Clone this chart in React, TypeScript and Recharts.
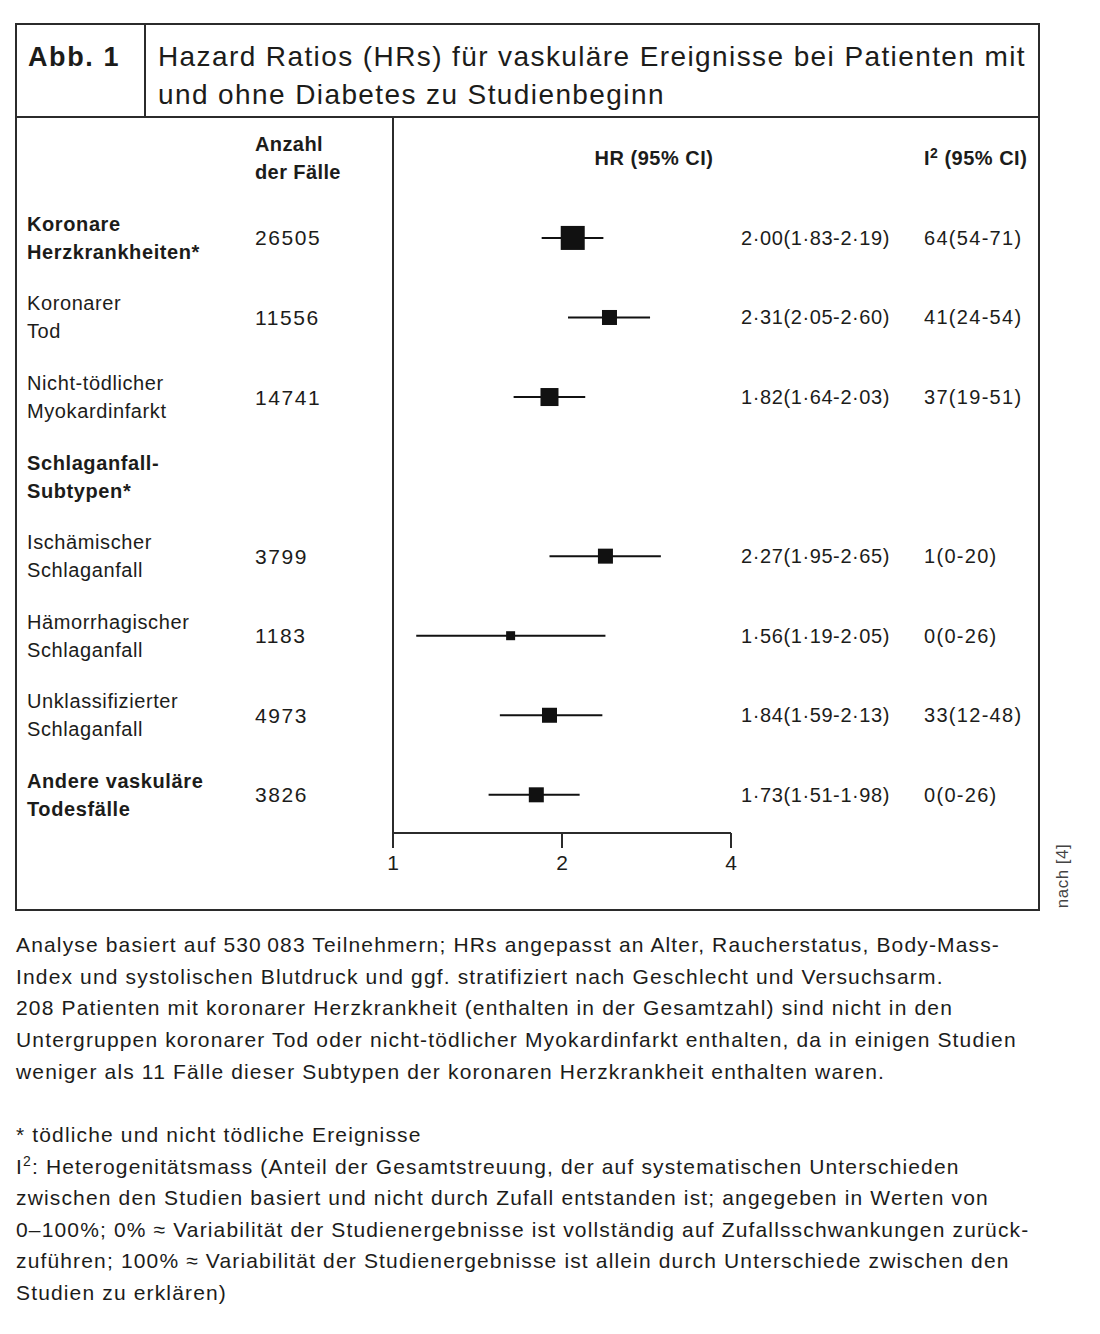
import React from "react";
import {
  ComposedChart,
  Scatter,
  XAxis,
  YAxis,
  ReferenceLine,
} from "recharts";

// ── Data ──────────────────────────────────────────────────────────────────────

const rowLabels: string[][] = [
  ["Koronare", "Herzkrankheiten*"],
  ["Koronarer", "Tod"],
  ["Nicht-tödlicher", "Myokardinfarkt"],
  ["Schlaganfall-", "Subtypen*"],
  ["Ischämischer", "Schlaganfall"],
  ["Hämorrhagischer", "Schlaganfall"],
  ["Unklassifizierter", "Schlaganfall"],
  ["Andere vaskuläre", "Todesfälle"],
];
const rowBold = [true, false, false, true, false, false, false, true];
const caseCounts = ["26505", "11556", "14741", "", "3799", "1183", "4973", "3826"];

// point estimate and CI as drawn
const hrPoint: (number | null)[] = [2.09, 2.43, 1.9, null, 2.39, 1.62, 1.9, 1.8];
const hrLow: (number | null)[] = [1.84, 2.05, 1.64, null, 1.9, 1.1, 1.55, 1.48];
const hrHigh: (number | null)[] = [2.37, 2.87, 2.2, null, 3.0, 2.39, 2.36, 2.15];
const squareWeights: (number | null)[] = [24, 15, 18, null, 15, 9, 15, 15];

const hrText = [
  "2·00(1·83-2·19)",
  "2·31(2·05-2·60)",
  "1·82(1·64-2·03)",
  "",
  "2·27(1·95-2·65)",
  "1·56(1·19-2·05)",
  "1·84(1·59-2·13)",
  "1·73(1·51-1·98)",
];
const i2Text = ["64(54-71)", "41(24-54)", "37(19-51)", "", "1(0-20)", "0(0-26)", "33(12-48)", "0(0-26)"];

const xTicks = [1, 2, 4];
const rowTicks = [-1, 0, 1, 2, 3, 4, 5, 6, 7];

const notesA = [
  "Analyse basiert auf 530\u2009083 Teilnehmern; HRs angepasst an Alter, Raucherstatus, Body-Mass-",
  "Index und systolischen Blutdruck und ggf. stratifiziert nach Geschlecht und Versuchsarm.",
  "208 Patienten mit koronarer Herzkrankheit (enthalten in der Gesamtzahl) sind nicht in den",
  "Untergruppen koronarer Tod oder nicht-tödlicher Myokardinfarkt enthalten, da in einigen Studien",
  "weniger als 11 Fälle dieser Subtypen der koronaren Herzkrankheit enthalten waren.",
];
const notesB = [
  "* tödliche und nicht tödliche Ereignisse",
  "²: Heterogenitätsmass (Anteil der Gesamtstreuung, der auf systematischen Unterschieden",
  "zwischen den Studien basiert und nicht durch Zufall entstanden ist; angegeben in Werten von",
  "0–100%; 0% ≈ Variabilität der Studienergebnisse ist vollständig auf Zufallsschwankungen zurück-",
  "zuführen; 100% ≈ Variabilität der Studienergebnisse ist allein durch Unterschiede zwischen den",
  "Studien zu erklären)",
];

const points = hrPoint
  .map((v, i) => ({ x: v, y: i, w: squareWeights[i] }))
  .filter((d) => d.x !== null);

// ── Styles ────────────────────────────────────────────────────────────────────

const FONT = "'Liberation Sans', Arial, sans-serif";
const INK = "#1c1c1a";
const LINE = "#2b2b2b";

// ── Ticks ─────────────────────────────────────────────────────────────────────

function LeftTick({ y, payload }: any) {
  const i = payload.value as number;
  if (i === -1) {
    return (
      <g fontFamily={FONT} fontSize={20} fontWeight={700} fill={INK} letterSpacing={0.4}>
        <text x={239} y={y - 14} dominantBaseline="central">Anzahl</text>
        <text x={239} y={y + 14} dominantBaseline="central">der Fälle</text>
      </g>
    );
  }
  const lines = rowLabels[i];
  const w = rowBold[i] ? 700 : 400;
  return (
    <g fontFamily={FONT} fontSize={20} fill={INK}>
      <text x={11} y={y - 14} dominantBaseline="central" fontWeight={w} letterSpacing={0.6}>{lines[0]}</text>
      <text x={11} y={y + 14} dominantBaseline="central" fontWeight={w} letterSpacing={0.6}>{lines[1]}</text>
      <text x={239} y={y} dominantBaseline="central" fontSize={21} letterSpacing={1.6}>{caseCounts[i]}</text>
    </g>
  );
}

function RightTick({ y, payload }: any) {
  const i = payload.value as number;
  if (i === -1) {
    return (
      <g fontFamily={FONT} fontSize={20} fontWeight={700} fill={INK} letterSpacing={0.5}>
        <text x={638} y={y} textAnchor="middle" dominantBaseline="central">HR (95% CI)</text>
        <text x={908} y={y} dominantBaseline="central">
          I<tspan fontSize={14} dy={-5}>2</tspan>
          <tspan dy={5}> (95% CI)</tspan>
        </text>
      </g>
    );
  }
  return (
    <g fontFamily={FONT} fontSize={20} fill={INK}>
      <text x={725} y={y} dominantBaseline="central" letterSpacing={0.6}>{hrText[i]}</text>
      <text x={908} y={y} dominantBaseline="central" letterSpacing={1.3}>{i2Text[i]}</text>
    </g>
  );
}

function XTick({ x, y, payload }: any) {
  return (
    <text x={x} y={y + 12} textAnchor="middle" dominantBaseline="central" fontFamily={FONT} fontSize={21} fill={INK}>
      {payload.value}
    </text>
  );
}

function Square({ cx, cy, payload }: any) {
  const s = payload.w as number;
  return <rect x={cx - s / 2} y={cy - s / 2} width={s} height={s} fill="#111" />;
}

// ── Component ─────────────────────────────────────────────────────────────────

export default function App() {
  return (
    <div style={{ position: "absolute", left: 0, top: 0, width: 1100, height: 1334, background: "#fff", fontFamily: FONT, color: INK }}>
      {/* Frame */}
      <div style={{ position: "absolute", left: 15, top: 23, width: 1025, height: 888, border: `2px solid ${LINE}`, boxSizing: "border-box" }} />
      <div style={{ position: "absolute", left: 15, top: 116, width: 1025, height: 2, background: LINE }} />
      <div style={{ position: "absolute", left: 144, top: 23, width: 2, height: 94, background: LINE }} />

      {/* Header */}
      <div style={{ position: "absolute", left: 28, top: 40, fontSize: 27, fontWeight: 700, lineHeight: "34px", letterSpacing: 1.6 }}>Abb. 1</div>
      <div style={{ position: "absolute", left: 158, top: 38, fontSize: 28, lineHeight: "38px", letterSpacing: 1.4, whiteSpace: "nowrap" }}>
        <div>Hazard Ratios (HRs) für vaskuläre Ereignisse bei Patienten mit</div>
        <div>und ohne Diabetes zu Studienbeginn</div>
      </div>

      {/* Forest plot */}
      <div style={{ position: "absolute", left: 16, top: 117 }}>
        <ComposedChart width={1024} height={763} margin={{ top: 0, right: 0, bottom: 0, left: 0 }}>
          <XAxis
            dataKey="x"
            type="number"
            scale="log"
            domain={[1, 4]}
            ticks={xTicks}
            allowDataOverflow
            height={47}
            axisLine={{ stroke: LINE, strokeWidth: 2 }}
            tickLine={{ stroke: LINE, strokeWidth: 2 }}
            tickSize={15}
            tick={<XTick />}
          />
          <YAxis
            yAxisId="left"
            dataKey="y"
            type="number"
            domain={[-1.52, 7.48]}
            reversed
            allowDataOverflow
            ticks={rowTicks}
            interval={0}
            width={377}
            axisLine={{ stroke: LINE, strokeWidth: 2 }}
            tickLine={false}
            tick={<LeftTick />}
          />
          <YAxis
            yAxisId="right"
            orientation="right"
            type="number"
            domain={[-1.52, 7.48]}
            reversed
            allowDataOverflow
            ticks={rowTicks}
            interval={0}
            width={309}
            axisLine={false}
            tickLine={false}
            tick={<RightTick />}
          />
          {hrPoint.map((v, i) =>
            v === null ? null : (
              <ReferenceLine
                key={i}
                yAxisId="left"
                segment={[
                  { x: hrLow[i] as number, y: i },
                  { x: hrHigh[i] as number, y: i },
                ]}
                stroke="#111"
                strokeWidth={2}
                ifOverflow="visible"
              />
            )
          )}
          <Scatter yAxisId="left" data={points} shape={<Square />} isAnimationActive={false} />
        </ComposedChart>
      </div>

      {/* Source */}
      <div style={{ position: "absolute", left: 1063, top: 876, transform: "translate(-50%, -50%) rotate(-90deg)", fontSize: 17, color: "#444", whiteSpace: "nowrap", letterSpacing: 0.5 }}>
        nach [4]
      </div>

      {/* Notes */}
      {notesA.map((t, i) => (
        <div key={"a" + i} style={{ position: "absolute", left: 16, top: 929 + i * 31.7, fontSize: 21, lineHeight: "32px", letterSpacing: 1.15, whiteSpace: "nowrap" }}>{t}</div>
      ))}
      {notesB.map((t, i) => (
        <div key={"b" + i} style={{ position: "absolute", left: 16, top: 1119 + i * 31.5, fontSize: 21, lineHeight: "32px", letterSpacing: 1.15, whiteSpace: "nowrap" }}>
          {i === 1 ? <span>I<sup style={{ fontSize: 14, lineHeight: 0 }}>2</sup>{t.slice(1)}</span> : t}
        </div>
      ))}
    </div>
  );
}
